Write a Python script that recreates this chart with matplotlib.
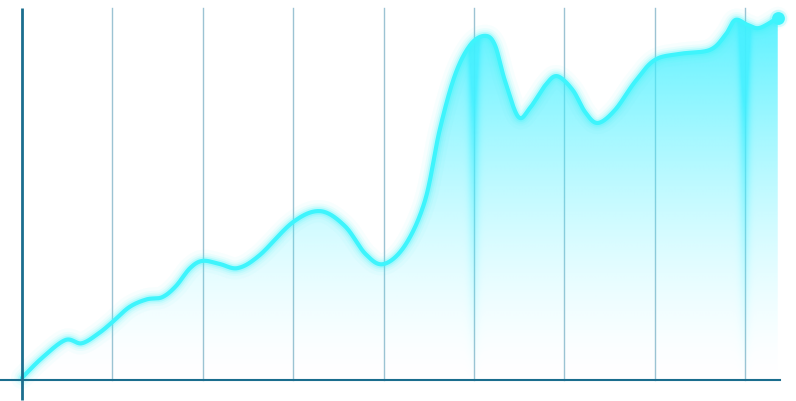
import numpy as np
import matplotlib
matplotlib.use("Agg")
import matplotlib.pyplot as plt
from matplotlib.patches import Polygon

# values (x in grid steps, y in chart units)
xs = [0.0, 0.22, 0.48, 0.66, 0.85, 1.0, 1.19, 1.38, 1.55, 1.70, 1.86, 2.0,
      2.19, 2.39, 2.63, 3.0, 3.30, 3.57, 3.80, 4.0, 4.24, 4.46, 4.62, 4.79,
      4.96, 5.12, 5.23, 5.34, 5.49, 5.62, 5.79, 5.92, 6.09, 6.23, 6.37, 6.56,
      6.78, 7.0, 7.28, 7.61, 7.78, 7.89, 8.03, 8.16, 8.36]
ys = [0.6, 6.1, 11.1, 10.2, 13.0, 16.1, 20.3, 22.4, 23.0, 26.0, 31.1, 33.1,
      32.2, 31.1, 34.7, 43.9, 46.9, 42.8, 35.0, 32.2, 37.5, 50.0, 69.4, 84.7,
      93.1, 95.6, 93.1, 83.3, 73.1, 75.6, 81.9, 84.4, 80.6, 74.4, 71.4, 75.0,
      82.8, 88.9, 90.6, 91.7, 95.8, 100.0, 98.6, 97.8, 100.6]
grid_x = [1, 2, 3, 4, 5, 6, 7, 8]
streak_x = [5.0, 8.0]

cyan = "#3ef4fc"
axis_col = "#1b6e8e"
grid_col = "#9cc3d3"


def smooth(x, y, n=30):
    # catmull-rom through the read points
    p = np.column_stack([x, y])
    p = np.vstack([p[0], p, p[-1]])
    out = []
    t = np.linspace(0, 1, n, endpoint=False)[:, None]
    for i in range(1, len(p) - 2):
        p0, p1, p2, p3 = p[i - 1], p[i], p[i + 1], p[i + 2]
        seg = 0.5 * ((2 * p1) + (-p0 + p2) * t + (2 * p0 - 5 * p1 + 4 * p2 - p3) * t ** 2
                     + (-p0 + 3 * p1 - 3 * p2 + p3) * t ** 3)
        out.append(seg)
    out.append(p[-2][None, :])
    out = np.vstack(out)
    return out[:, 0], out[:, 1]


sx, sy = smooth(xs, ys)

fig = plt.figure(figsize=(7.96, 4.01), dpi=100)
ax = fig.add_axes([0, 0, 1, 1])
xmin, xmax = -22 / 90.4, (796 - 22) / 90.4
ymin, ymax = -21 / 3.6, 380 / 3.6
ax.set_xlim(xmin, xmax)
ax.set_ylim(ymin, ymax)
ax.axis("off")

top = (380 - 8) / 3.6
for gx in grid_x:
    ax.plot([gx, gx], [0, top], color=grid_col, lw=1, zorder=1)

# gradient fill under the line
nx, ny = 800, 400
gxs = np.linspace(xmin, xmax, nx)
gys = np.linspace(ymin, ymax, ny)
GX, GY = np.meshgrid(gxs, gys)
frac = np.clip(GY / 100.0, 0, 1)
alpha = 0.85 * frac ** 1.5
for s in streak_x:
    alpha += 0.5 * np.exp(-((GX - s) / 0.06) ** 2) * frac ** 1.0
alpha = np.clip(alpha, 0, 0.95)
rgba = np.zeros((ny, nx, 4))
rgba[..., 0] = 0x40 / 255
rgba[..., 1] = 0xf0 / 255
rgba[..., 2] = 1.0
rgba[..., 3] = alpha
im = ax.imshow(rgba, extent=(xmin, xmax, ymin, ymax), origin="lower",
               aspect="auto", zorder=2, interpolation="bilinear")
poly = Polygon(np.column_stack([np.r_[sx[0], sx, sx[-1]], np.r_[0, sy, 0]]),
               closed=True, transform=ax.transData, facecolor="none", edgecolor="none")
ax.add_patch(poly)
im.set_clip_path(poly)

# axes
ax.plot([0, 0], [top, -20 / 3.6], color=axis_col, lw=2, zorder=5, solid_capstyle="butt")
ax.plot([xmin, (780 - 22) / 90.4], [0, 0], color=axis_col, lw=1.5, zorder=5)

# glowing line
for lw, a in [(16, 0.04), (11, 0.07), (8, 0.11), (5.5, 0.2)]:
    ax.plot(sx, sy, color=cyan, lw=lw, alpha=a, zorder=3, solid_capstyle="round")
ax.plot(sx, sy, color=cyan, lw=3, zorder=4, solid_capstyle="round")
ax.scatter([xs[-1]], [ys[-1]], s=160, color=cyan, alpha=0.2, zorder=4, linewidths=0)
ax.scatter([xs[-1]], [ys[-1]], s=85, color=cyan, zorder=4, linewidths=0)

fig.savefig("out.png", dpi=100, facecolor="white")
